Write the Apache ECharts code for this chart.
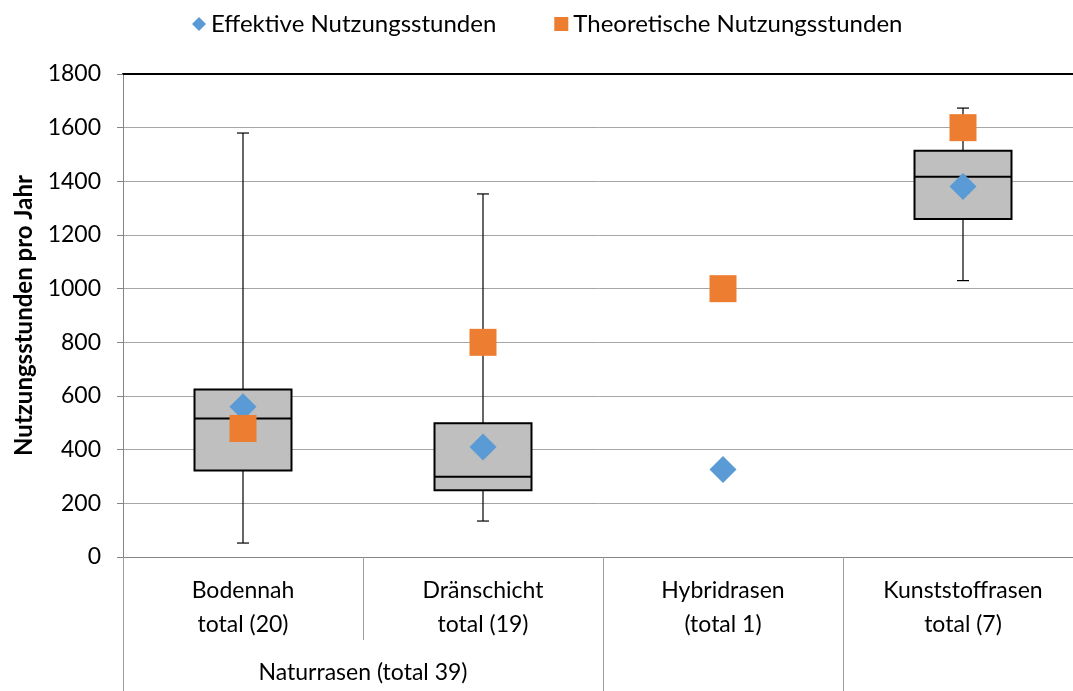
<!DOCTYPE html>
<html>
<head>
<meta charset="utf-8">
<script src="https://cdn.jsdelivr.net/npm/echarts@6/dist/echarts.min.js"></script>
<style>
  html, body { margin: 0; padding: 0; background: #fff; }
  #chart { width: 1073px; height: 691px; }
</style>
</head>
<body>
<div id="chart"></div>
<script>
// Werte
var categories = ['Bodennah\ntotal (20)', 'Dränschicht\ntotal (19)', 'Hybridrasen\n(total 1)', 'Kunststoffrasen\ntotal (7)'];
var groupLabel = 'Naturrasen (total 39)';
var boxMin    = [52, 134, null, 1030];
var boxQ1     = [322, 249, null, 1260];
var boxMedian = [516, 299, null, 1417];
var boxQ3     = [624, 498, null, 1514];
var boxMax    = [1580, 1353, null, 1673];
var effektiv    = [560, 410, 326, 1381];
var theoretisch = [479, 800, 1000, 1600];
var yMin = 0, yMax = 1800, yStep = 200;

var fontFam = 'Lato, "Open Sans", sans-serif';

var boxRows = [];
for (var i = 0; i < categories.length; i++) {
    if (boxMin[i] == null) continue;
    boxRows.push([i, boxMin[i], boxQ1[i], boxMedian[i], boxQ3[i], boxMax[i]]);
}

function renderBox(params, api) {
    var idx = api.value(0);
    var pMin = api.coord([idx, api.value(1)]);
    var pQ1 = api.coord([idx, api.value(2)]);
    var pMed = api.coord([idx, api.value(3)]);
    var pQ3 = api.coord([idx, api.value(4)]);
    var pMax = api.coord([idx, api.value(5)]);
    var x = pMed[0];
    var hw = 48.5, cw = 6;
    var thin = { stroke: '#000', lineWidth: 1.2 };
    var thick = { stroke: '#000', lineWidth: 2 };
    return {
        type: 'group',
        children: [
            { type: 'line', shape: { x1: x, y1: pMax[1], x2: x, y2: pMin[1] }, style: thin },
            { type: 'line', shape: { x1: x - cw, y1: pMax[1], x2: x + cw, y2: pMax[1] }, style: thin },
            { type: 'line', shape: { x1: x - cw, y1: pMin[1], x2: x + cw, y2: pMin[1] }, style: thin },
            { type: 'rect', shape: { x: x - hw, y: pQ3[1], width: hw * 2, height: pQ1[1] - pQ3[1] },
              style: { fill: '#bfbfbf', stroke: '#000', lineWidth: 2 } },
            { type: 'line', shape: { x1: x - hw, y1: pMed[1], x2: x + hw, y2: pMed[1] }, style: thick }
        ]
    };
}

var chart = echarts.init(document.getElementById('chart'));
chart.setOption({
    animation: false,
    textStyle: { fontFamily: fontFam },
    legend: {
        top: 7,
        left: 187,
        itemWidth: 14,
        itemHeight: 14,
        itemGap: 58,
        textStyle: { fontSize: 24, color: '#000', fontFamily: fontFam },
        data: [
            { name: 'Effektive Nutzungsstunden', icon: 'diamond' },
            { name: 'Theoretische Nutzungsstunden', icon: 'rect' }
        ]
    },
    grid: { left: 123, top: 74, width: 960, bottom: 134, outerBoundsMode: 'none' },
    xAxis: [
        {
            type: 'category',
            data: categories,
            position: 'bottom',
            axisLine: { lineStyle: { color: '#868686', width: 1 } },
            axisTick: { show: true, length: 83, lineStyle: { color: '#a0a0a0' } },
            axisLabel: { color: '#000', fontSize: 23, lineHeight: 34, margin: 17, interval: 0, fontFamily: fontFam },
            splitLine: { show: false }
        },
        {
            type: 'value',
            min: 0, max: 4, interval: 1,
            position: 'bottom',
            axisLine: { show: false },
            axisTick: { show: true, length: 134, customValues: [0, 2, 3, 4], lineStyle: { color: '#a0a0a0' } },
            axisLabel: { show: true, customValues: [1], margin: 99, color: '#000', fontSize: 23, lineHeight: 34,
                         fontFamily: fontFam, formatter: function () { return groupLabel; } },
            splitLine: { show: false }
        },
        {
            type: 'category',
            data: categories,
            position: 'top',
            axisLine: { lineStyle: { color: '#000', width: 2 } },
            axisTick: { show: false },
            axisLabel: { show: false },
            splitLine: { show: false }
        }
    ],
    yAxis: {
        type: 'value',
        min: yMin, max: yMax, interval: yStep,
        name: 'Nutzungsstunden pro Jahr',
        nameLocation: 'middle',
        nameGap: 81,
        nameTextStyle: { fontSize: 24, fontWeight: 'bold', color: '#000', fontFamily: fontFam },
        axisLine: { show: true, lineStyle: { color: '#868686' } },
        axisTick: { show: true, length: 6, lineStyle: { color: '#868686' } },
        axisLabel: { color: '#000', fontSize: 23, margin: 22, fontFamily: fontFam,
                     formatter: function (v) { return String(v); } },
        splitLine: { lineStyle: { color: '#a6a6a6', width: 1 } }
    },
    series: [
        {
            type: 'custom',
            name: 'box',
            renderItem: renderBox,
            encode: { x: 0, y: [1, 2, 3, 4, 5] },
            data: boxRows,
            z: 1
        },
        {
            type: 'scatter',
            name: 'Effektive Nutzungsstunden',
            symbol: 'diamond',
            symbolSize: 27,
            itemStyle: { color: '#5b9bd5', opacity: 1 },
            data: effektiv,
            z: 3
        },
        {
            type: 'scatter',
            name: 'Theoretische Nutzungsstunden',
            symbol: 'rect',
            symbolSize: 27,
            itemStyle: { color: '#ed7d31', opacity: 1 },
            data: theoretisch,
            z: 4
        }
    ]
});
</script>
</body>
</html>
